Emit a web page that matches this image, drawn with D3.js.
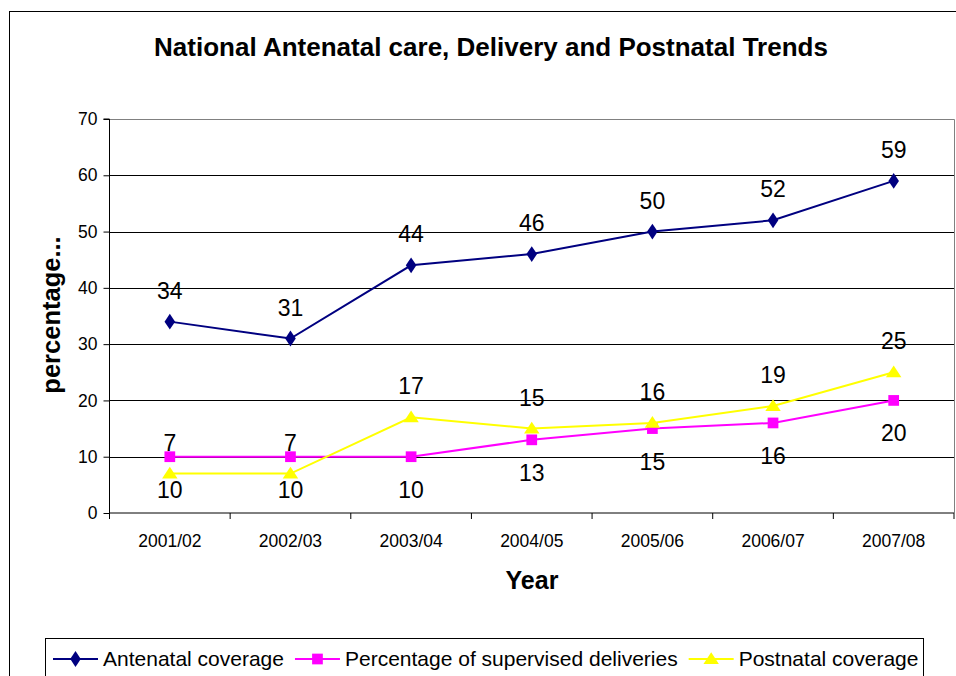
<!DOCTYPE html>
<html>
<head>
<meta charset="utf-8">
<script src="https://cdn.jsdelivr.net/npm/d3@7/dist/d3.min.js"></script>
<style>
  body { margin: 0; background: #fff; }
  svg { display: block; font-family: Arial, "Liberation Sans", sans-serif; }
</style>
</head>
<body>
<svg></svg>
<script>
const years = ['2001/02', '2002/03', '2003/04', '2004/05', '2005/06', '2006/07', '2007/08'];
const antenatal = [34, 31, 44, 46, 50, 52, 59];
const supervised = [10, 10, 10, 13, 15, 16, 20];
const postnatal = [7, 7, 17, 15, 16, 19, 25];
const yTicks = [0, 10, 20, 30, 40, 50, 60, 70];

const size = {w: 956, h: 676};
const plot = {l: 109.5, r: 954, t: 119, b: 513};

const svg = d3.select('svg')
    .attr('width', size.w)
    .attr('height', size.h);

// outer chart frame
svg.append('rect')
    .attr('x', 9.5).attr('y', 11.5)
    .attr('width', 980).attr('height', 700)
    .attr('fill', 'none')
    .attr('stroke', '#000');

const x = d3.scaleBand().domain(years).range([plot.l, plot.r]).padding(0);
const y = d3.scaleLinear().domain([0, 70]).range([plot.b, plot.t]);

// gridlines
svg.append('g')
    .selectAll('line')
    .data(yTicks.filter(d => d > 0))
    .join('line')
    .attr('x1', plot.l).attr('x2', plot.r)
    .attr('y1', d => Math.round(y(d)) + 0.5)
    .attr('y2', d => Math.round(y(d)) + 0.5)
    .attr('stroke', '#000')
    .attr('stroke-width', 1);

// plot border (top / right)
svg.append('path')
    .attr('d', `M${plot.l},${plot.t + 0.5}H${plot.r + 0.5}V${plot.b}`)
    .attr('fill', 'none')
    .attr('stroke', '#808080');

// y axis
const yAxis = svg.append('g')
    .attr('transform', `translate(${plot.l},0)`)
    .call(d3.axisLeft(y).tickValues(yTicks).tickSize(6).tickPadding(6));
yAxis.selectAll('text').attr('font-size', 17.5).attr('fill', '#000').attr('font-family', 'Arial, "Liberation Sans", sans-serif');
yAxis.selectAll('line, path').attr('stroke', '#000');
yAxis.select('.domain').attr('d', `M-6,${plot.t}H0V${plot.b}`);

// x axis
const xAxis = svg.append('g')
    .attr('transform', `translate(0,${plot.b})`)
    .call(d3.axisBottom(x).tickSize(0).tickPadding(22));
xAxis.selectAll('text').attr('font-size', 17.5).attr('fill', '#000').attr('font-family', 'Arial, "Liberation Sans", sans-serif');
xAxis.select('.domain').attr('stroke', '#000').attr('d', `M${plot.l},0H${plot.r}`);
xAxis.selectAll('.edge')
    .data(d3.range(years.length + 1))
    .join('line')
    .attr('class', 'edge')
    .attr('x1', i => plot.l + i * x.bandwidth())
    .attr('x2', i => plot.l + i * x.bandwidth())
    .attr('y1', 0).attr('y2', 6)
    .attr('stroke', '#000');

const series = [
    {name: 'Antenatal coverage', values: antenatal, color: '#000080', shape: d3.symbolDiamond, symSize: 80, labelDy: -31},
    {name: 'Percentage of supervised deliveries', values: supervised, color: '#FF00FF', shape: d3.symbolSquare, symSize: 115, labelDy: 33},
    {name: 'Postnatal coverage', values: postnatal, color: '#FFFF00', shape: d3.symbolTriangle, symSize: 66, labelDy: -31}
];

const cx = (d, i) => x(years[i]) + x.bandwidth() / 2;

const line = d3.line()
    .x((d, i) => cx(d, i))
    .y(d => y(d));

function markTransform(s, px, py) {
    let t = `translate(${px},${py})`;
    if (s.shape === d3.symbolDiamond) t += ' scale(1.1,0.95)';
    if (s.shape === d3.symbolTriangle) t += ' translate(0,1) scale(1.25,1.1)';
    return t;
}

series.forEach(s => {
    const g = svg.append('g');
    g.append('path')
        .attr('d', line(s.values))
        .attr('fill', 'none')
        .attr('stroke', s.color)
        .attr('stroke-width', 2);

    g.selectAll('path.mark')
        .data(s.values)
        .join('path')
        .attr('class', 'mark')
        .attr('d', d3.symbol().type(s.shape).size(s.symSize))
        .attr('transform', (d, i) => markTransform(s, cx(d, i), y(d)))
        .attr('fill', s.color)
        .attr('stroke', 'none');
});

// data labels drawn on top
series.forEach(s => {
    svg.append('g')
        .selectAll('text')
        .data(s.values)
        .join('text')
        .attr('x', (d, i) => cx(d, i))
        .attr('y', d => y(d) + s.labelDy)
        .attr('dy', '0.35em')
        .attr('text-anchor', 'middle')
        .attr('font-size', 23)
        .attr('fill', '#000')
        .text(d => d);
});

// titles
svg.append('text')
    .attr('x', 491).attr('y', 56)
    .attr('text-anchor', 'middle')
    .attr('font-size', 26)
    .attr('font-weight', 'bold')
    .text('National Antenatal care, Delivery and Postnatal Trends');

svg.append('text')
    .attr('x', 532).attr('y', 589)
    .attr('text-anchor', 'middle')
    .attr('font-size', 25)
    .attr('font-weight', 'bold')
    .text('Year');

svg.append('text')
    .attr('transform', 'translate(60,315) rotate(-90)')
    .attr('text-anchor', 'middle')
    .attr('font-size', 25.5)
    .attr('font-weight', 'bold')
    .text('percentage...');

// legend
const legend = svg.append('g');
legend.append('rect')
    .attr('x', 45.5).attr('y', 638.5)
    .attr('width', 878).attr('height', 60)
    .attr('fill', '#fff')
    .attr('stroke', '#000');

let lx = 53;
series.forEach(s => {
    const item = legend.append('g');
    item.append('line')
        .attr('x1', lx).attr('x2', lx + 45)
        .attr('y1', 659).attr('y2', 659)
        .attr('stroke', s.color)
        .attr('stroke-width', 2);
    item.append('path')
        .attr('d', d3.symbol().type(s.shape).size(s.symSize))
        .attr('transform', markTransform(s, lx + 22.5, 659))
        .attr('fill', s.color);
    const txt = item.append('text')
        .attr('x', lx + 50).attr('y', 666)
        .attr('font-size', 21)
        .text(s.name);
    lx += 50 + txt.node().getComputedTextLength() + 11;
});
</script>
</body>
</html>
